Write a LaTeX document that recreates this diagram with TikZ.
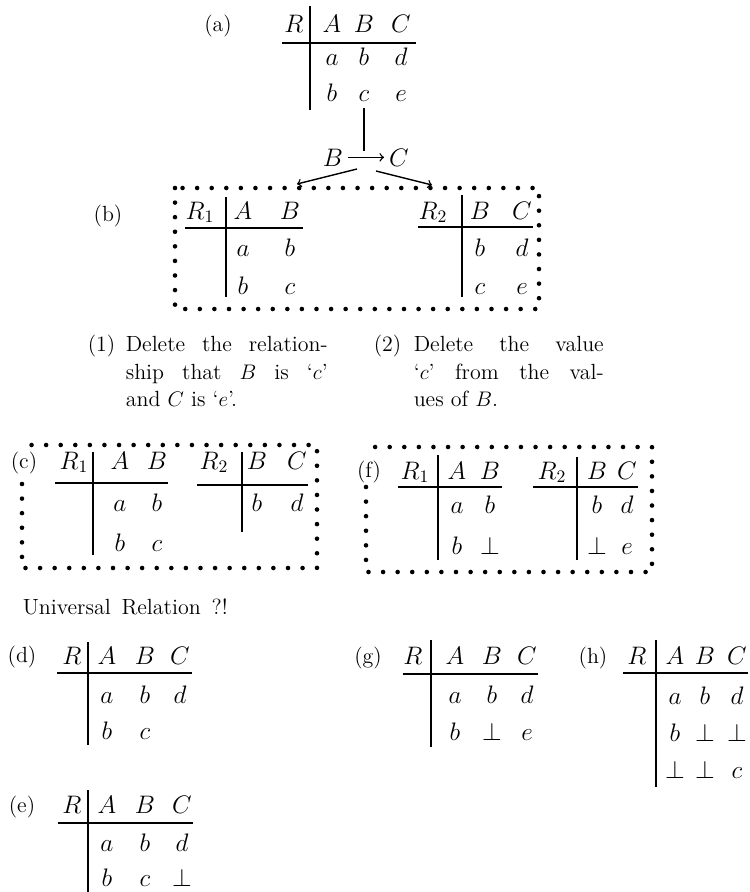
\documentclass[tikz,border=0pt]{standalone}
\usepackage{amsmath}
\usepackage{amssymb}

\begin{document}
\begin{tikzpicture}[x=0.02cm, y=-0.02cm, line width=0.9pt,
    cell/.style={anchor=base, inner sep=0pt, font=\fontsize{14.5}{17}\selectfont},
    tag/.style={anchor=base, inner sep=0pt, font=\fontsize{12.5}{15}\selectfont},
    note/.style={anchor=base west, inner sep=0pt, font=\fontsize{12.5}{15}\selectfont},
    fd/.style={anchor=base, inner sep=2.5pt, font=\fontsize{14.5}{17}\selectfont},
    dotbox/.style={line width=2.6pt, line cap=round, dash pattern=on 0pt off 8.3pt}]
  \useasboundingbox (0,0) rectangle (750,892);

  % (a)
  \node [tag] (la) at (218,32) {(a)};
  \foreach \x/\y/\t/\n in {294/33/R/aR, 332/33/A/aA, 364/33/B/aB, 401/33/C/aC,
      332/66/a/a11, 364/66/b/a12, 401/66/d/a13,
      332/102/b/a21, 364/102/c/a22, 401/102/e/a23}
    \node [cell] (\n) at (\x,\y) {$\t$};
  \draw (282,43) -- (416,43);
  \draw (310,6) -- (310,110);

  % B -> C
  \node [fd] (fB) at (333,166) {$B$};
  \node [fd] (fC) at (399,166) {$C$};
  \coordinate (fdtop) at (364,151);
  \coordinate (fdl) at (357,169);
  \coordinate (fdr) at (376,171);
  \coordinate (bl) at (297,184);
  \coordinate (br) at (432,185);
  \draw [->, line width=0.8pt] (fB) -- (fC);
  \draw [line width=0.8pt] ([yshift=-3pt]a22.south) -- (fdtop);
  \draw [->, line width=0.8pt] (fdl) -- (bl);
  \draw [->, line width=0.8pt] (fdr) -- (br);

  % (b)
  \node [tag] (lb) at (108,221) {(b)};
  \draw [dotbox] (175,188) rectangle (539,309);
  \foreach \x/\y/\t/\n in {200/219/R_1/b1R, 243/219/A/b1A, 290/219/B/b1B,
      243/256/a/b111, 290/256/b/b112, 243/294/b/b121, 290/294/c/b122,
      433/219/R_2/b2R, 480/219/B/b2B, 522/219/C/b2C,
      480/256/b/b211, 522/256/d/b212, 480/294/c/b221, 522/294/e/b222}
    \node [cell] (\n) at (\x,\y) {$\t$};
  \draw (185,228) -- (303,228);
  \draw (226,197) -- (226,297);
  \draw (418,227) -- (533,227);
  \draw (462,195) -- (462,297);

  % (1) and (2)
  \node [note] (n1) at (87,351) {(1)};
  \node [note] (n1a) at (125,351) {\makebox[4.04cm][s]{Delete the relation-}};
  \node [note] (n1b) at (125,379) {\makebox[4.04cm][s]{ship that $B$ is `$c$'}};
  \node [note] (n1c) at (125,406) {and $C$ is `$e$'.};
  \node [note] (n2) at (373,351) {(2)};
  \node [note] (n2a) at (413,351) {\makebox[3.8cm][s]{Delete the value}};
  \node [note] (n2b) at (413,379) {\makebox[3.8cm][s]{`$c$' from the val-}};
  \node [note] (n2c) at (413,406) {ues of $B$.};

  % (c)
  \draw [dotbox] (22,484) -- (22,568) -- (317,568) -- (317,445) -- (22,445);
  \node [tag] (lc) at (24,468) {(c)};
  \foreach \x/\y/\t/\n in {74/469/R_1/c1R, 120/469/A/c1A, 157/469/B/c1B,
      120/511/a/c111, 157/511/b/c112, 120/551/b/c121, 157/551/c/c122,
      214/469/R_2/c2R, 257/469/B/c2B, 297/469/C/c2C,
      257/511/b/c211, 297/511/d/c212}
    \node [cell] (\n) at (\x,\y) {$\t$};
  \draw (55,483) -- (168,483);
  \draw (93,452) -- (93,555);
  \draw (197,485) -- (308,485);
  \draw (242,452) -- (242,532);

  % (f)
  \draw [dotbox] (366,487) -- (366,572) -- (652,572) -- (652,447) -- (367,447);
  \node [tag] (lf) at (369,477) {(f)};
  \foreach \x/\y/\t/\n in {415/479/R_1/f1R, 457/479/A/f1A, 490/479/B/f1B,
      457/513/a/f111, 490/513/b/f112, 457/554/b/f121, 490/554/\bot/f122,
      552/479/R_2/f2R, 597/479/B/f2B, 627/479/C/f2C,
      597/513/b/f211, 627/513/d/f212, 597/554/\bot/f221, 627/554/e/f222}
    \node [cell] (\n) at (\x,\y) {$\t$};
  \draw (398,487) -- (502,487);
  \draw (438,455) -- (438,560);
  \draw (533,487) -- (638,487);
  \draw (577,457) -- (577,560);

  \node [note] (ur) at (22,614) {\makebox[4.1cm][s]{Universal Relation ?!}};

  % (d)
  \node [tag] (ld) at (22,662) {(d)};
  \foreach \x/\y/\t/\n in {72/664/R/dR, 107/664/A/dA, 145/664/B/dB, 180/664/C/dC,
      107/703/a/d11, 145/703/b/d12, 180/703/d/d13,
      107/739/b/d21, 145/739/c/d22}
    \node [cell] (\n) at (\x,\y) {$\t$};
  \draw (57,673) -- (192,673);
  \draw (88,642) -- (88,745);

  % (g)
  \node [tag] (lg) at (368,663) {(g)};
  \foreach \x/\y/\t/\n in {413/664/R/gR, 455/664/A/gA, 492/664/B/gB, 527/664/C/gC,
      455/703/a/g11, 492/703/b/g12, 527/703/d/g13,
      455/740/b/g21, 492/740/\bot/g22, 527/740/e/g23}
    \node [cell] (\n) at (\x,\y) {$\t$};
  \draw (403,674) -- (538,674);
  \draw (431,640) -- (431,747);

  % (h)
  \node [tag] (lh) at (593,663) {(h)};
  \foreach \x/\y/\t/\n in {637/664/R/hR, 675/664/A/hA, 705/664/B/hB, 737/664/C/hC,
      675/704/a/h11, 705/704/b/h12, 737/704/d/h13,
      675/741/b/h21, 705/741/\bot/h22, 737/741/\bot/h23,
      675/778/\bot/h31, 705/778/\bot/h32, 737/778/c/h33}
    \node [cell] (\n) at (\x,\y) {$\t$};
  \draw (623,673) -- (748,673);
  \draw (656,640) -- (656,787);

  % (e)
  \node [tag] (le) at (22,812) {(e)};
  \foreach \x/\y/\t/\n in {72/813/R/eR, 107/813/A/eA, 145/813/B/eB, 182/813/C/eC,
      107/851/a/e11, 145/851/b/e12, 182/851/d/e13,
      107/886/b/e21, 145/886/c/e22, 182/886/\bot/e23}
    \node [cell] (\n) at (\x,\y) {$\t$};
  \draw (58,823) -- (193,823);
  \draw (88,790) -- (88,892);
\end{tikzpicture}
\end{document}
